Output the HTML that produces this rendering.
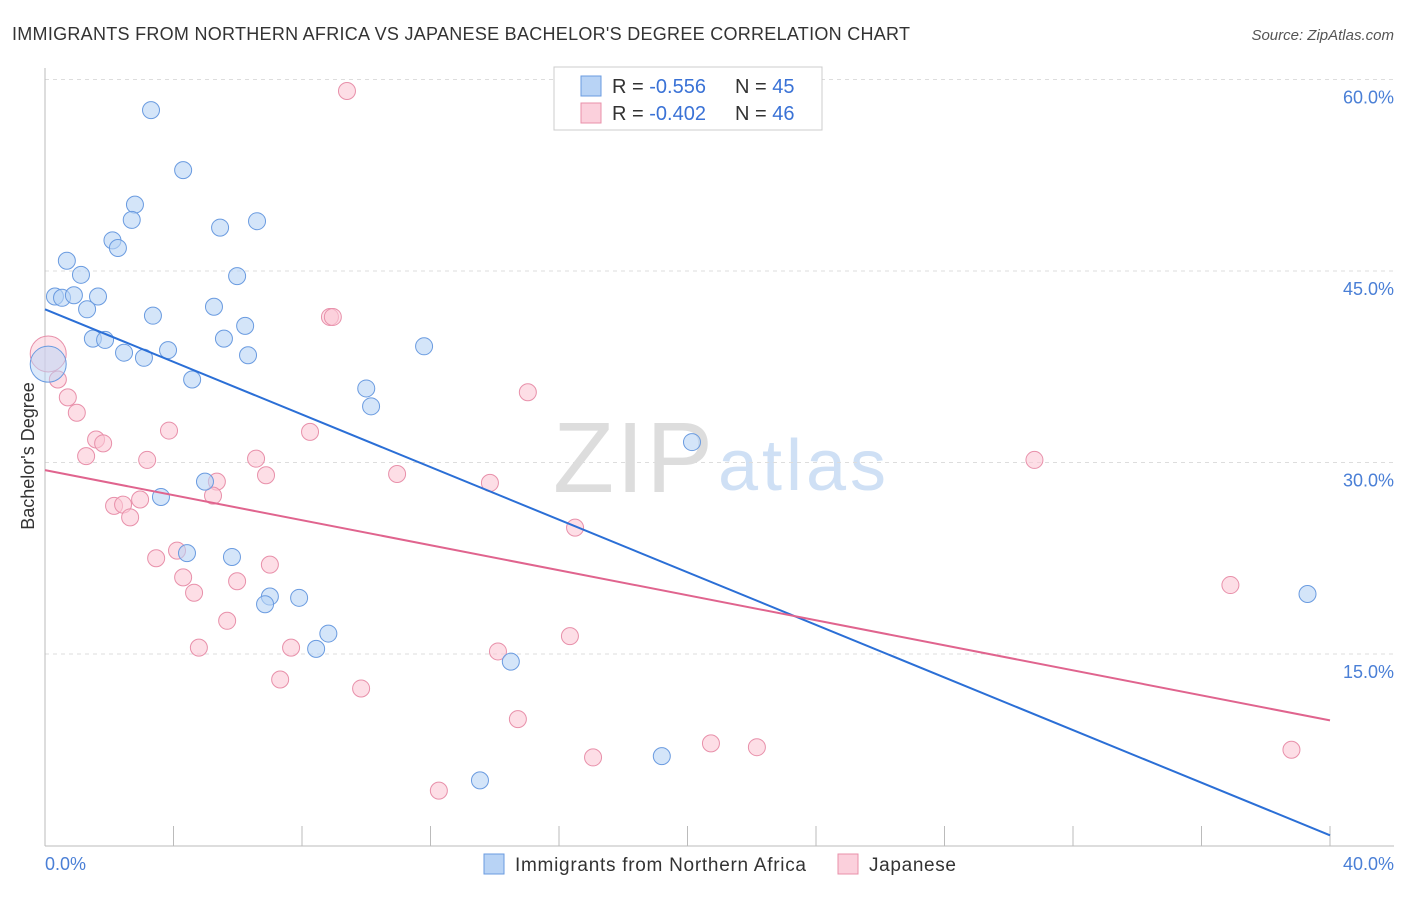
<!DOCTYPE html>
<html><head><meta charset="utf-8"><style>
body{margin:0;background:#fff;font-family:"Liberation Sans",sans-serif;}
svg text{font-family:"Liberation Sans",sans-serif;}
</style></head><body>
<svg id="c" width="1406" height="892">
<text x="12" y="40" font-size="18" fill="#333" textLength="898">IMMIGRANTS FROM NORTHERN AFRICA VS JAPANESE BACHELOR'S DEGREE CORRELATION CHART</text>
<text x="1394" y="40" font-size="15" fill="#555" font-style="italic" text-anchor="end">Source: ZipAtlas.com</text>
<text x="553" y="492" font-size="100" fill="#ddd" font-family="Liberation Serif" textLength="160">ZIP</text>
<text x="718" y="490" font-size="72" fill="#cfe0f5" textLength="168">atlas</text>
<g id="grid"></g><g id="pts"></g><g id="lines"></g>
<text x="34" y="456" font-size="18" fill="#333" text-anchor="middle" transform="rotate(-90 34 456)">Bachelor's Degree</text>
<text x="45" y="870" font-size="18" fill="#4a7fd6">0.0%</text>
<text x="1394" y="870" font-size="18" fill="#4a7fd6" text-anchor="end">40.0%</text>
<g>
<rect x="554" y="67" width="268" height="63" fill="#fff" stroke="#ccc"/>
<rect x="581" y="76" width="20" height="20" fill="#b8d3f5" stroke="#6a9be0"/>
<rect x="581" y="103" width="20" height="20" fill="#fbd0dc" stroke="#e890aa"/>
<text x="612" y="93" font-size="20" fill="#333">R = <tspan fill="#3a72d6">-0.556</tspan></text>
<text x="735" y="93" font-size="20" fill="#333">N = <tspan fill="#3a72d6">45</tspan></text>
<text x="612" y="120" font-size="20" fill="#333">R = <tspan fill="#3a72d6">-0.402</tspan></text>
<text x="735" y="120" font-size="20" fill="#333">N = <tspan fill="#3a72d6">46</tspan></text>
</g>
<g>
<rect x="484" y="854" width="20" height="20" fill="#b8d3f5" stroke="#6a9be0"/>
<text x="515" y="871" font-size="19" fill="#333" textLength="291">Immigrants from Northern Africa</text>
<rect x="838" y="854" width="20" height="20" fill="#fbd0dc" stroke="#e890aa"/>
<text x="869" y="871" font-size="19" fill="#333" textLength="87">Japanese</text>
</g>
</svg>
<script>
const yTicks=[15,30,45,60];
const yTickLabels=["15.0%","30.0%","45.0%","60.0%"];
const blueX=[3.3,4.3,2.8,2.7,5.45,6.6,2.1,2.27,0.68,1.12,5.98,0.31,0.53,0.9,1.65,1.31,5.26,3.36,6.23,1.49,1.87,5.57,2.46,3.08,3.83,6.32,11.8,4.58,10.0,10.15,20.14,4.98,3.61,4.42,5.82,7.0,6.85,7.91,8.82,8.44,14.5,19.2,13.54,39.3,0.1];
const blueY=[57.6,52.9,50.2,49.0,48.4,48.9,47.4,46.8,45.8,44.7,44.6,43.0,42.9,43.1,43.0,42.0,42.2,41.5,40.7,39.7,39.6,39.7,38.6,38.2,38.8,38.4,39.1,36.5,35.8,34.4,31.6,28.5,27.3,22.9,22.6,19.5,18.9,19.4,16.6,15.4,14.4,7.0,5.1,19.7,37.7];
const pinkX=[9.4,8.87,8.96,15.03,0.4,0.71,0.99,1.59,1.81,1.28,3.86,8.25,3.18,6.57,6.88,10.96,5.35,13.85,5.23,2.15,2.43,2.96,2.65,16.5,30.8,3.46,4.11,4.3,7.0,5.98,4.64,36.9,5.67,4.79,7.66,16.34,14.1,7.32,9.84,14.72,20.73,22.16,17.06,38.8,12.26,0.1];
const pinkY=[59.1,41.4,41.4,35.5,36.5,35.1,33.9,31.8,31.5,30.5,32.5,32.4,30.2,30.3,29.0,29.1,28.5,28.4,27.4,26.6,26.7,27.1,25.7,24.9,30.2,22.5,23.1,21.0,22.0,20.7,19.8,20.4,17.6,15.5,15.5,16.4,15.2,13.0,12.3,9.9,8.0,7.7,6.9,7.5,4.3,38.5];
const blueLine=[42.0,0.8], pinkLine=[29.4,9.8];
const X=v=>45+v*32.125, Y=v=>845.5-v*12.767;
const ns="http://www.w3.org/2000/svg";
function mk(t,a,p){const e=document.createElementNS(ns,t);for(const k in a)e.setAttribute(k,a[k]);p.appendChild(e);return e;}
const g=document.getElementById('grid');
yTicks.forEach((t,i)=>{
 const l=mk('line',{x1:45,x2:1394,y1:Y(t),y2:Y(t),stroke:'#ddd','stroke-dasharray':'4,4'},g);
 
 
 const tx=mk('text',{x:1394,y:Y(t)+24,'font-size':18,fill:'#4a7fd6','text-anchor':'end'},g);
 tx.textContent=yTickLabels[i];
 
 
});
const ax=mk('line',{x1:45,x2:45,y1:68,y2:846,stroke:'#bbb'},g);


const bx=mk('line',{x1:45,x2:1394,y1:846,y2:846,stroke:'#bbb'},g);


for(let i=1;i<=10;i++){const t=mk('line',{x1:X(i*4),x2:X(i*4),y1:826,y2:846,stroke:'#bbb'},g);
 
 }
const p=document.getElementById('pts');
function pts(xs,ys,fill,stroke,name){xs.forEach((x,i)=>{
 const big=i===xs.length-1;
 const c=mk('circle',{cx:X(x),cy:Y(ys[i]),r:big?18:8.5,fill:fill,'fill-opacity':big?0.5:0.6,stroke:stroke,'stroke-width':1},p);
 
 });}
pts(pinkX,pinkY,'#fbc8d6','#e890aa','japanese-point');
pts(blueX,blueY,'#b8d3f5','#6a9be0','n-africa-point');
const L=document.getElementById('lines');
const l1=mk('line',{x1:X(0),y1:Y(blueLine[0]),x2:X(40),y2:Y(blueLine[1]),stroke:'#2b6fd6','stroke-width':2},L);


const l2=mk('line',{x1:X(0),y1:Y(pinkLine[0]),x2:X(40),y2:Y(pinkLine[1]),stroke:'#e0648e','stroke-width':2},L);


</script>
</body></html>
